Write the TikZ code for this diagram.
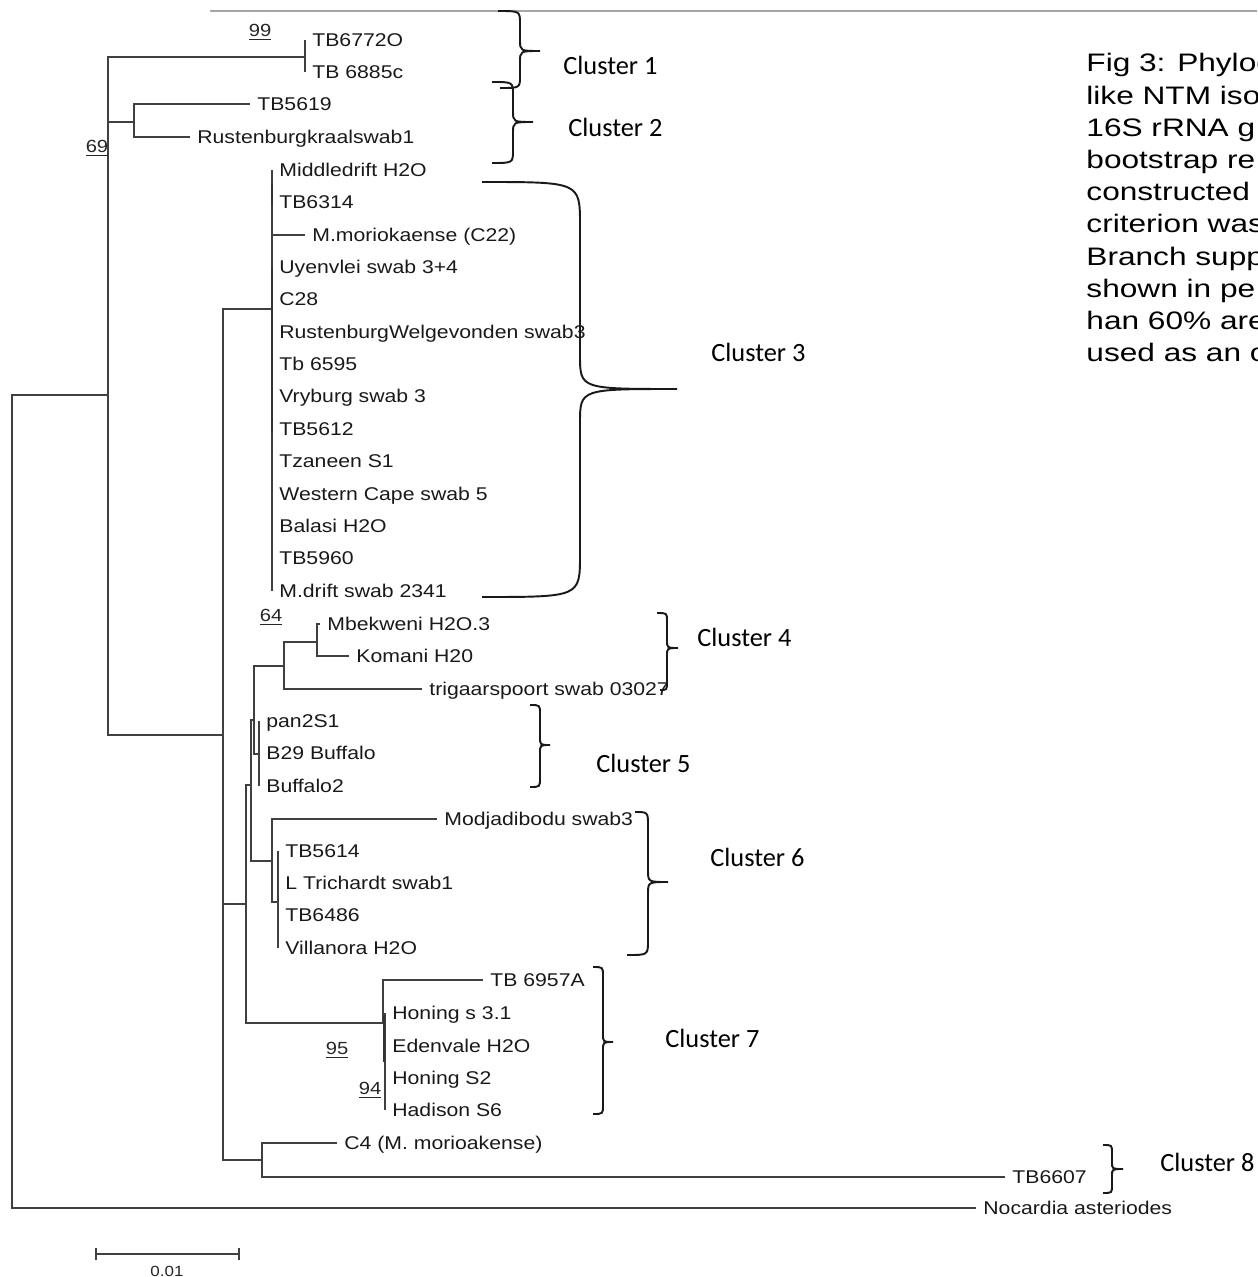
\documentclass[tikz,border=0pt]{standalone}
\usepackage{fontspec}
\usepackage{tikz}
\newfontfamily\treefont[FakeStretch=1.15]{Liberation Sans}
\newfontfamily\capfont{Liberation Sans}
\newfontfamily\clufont{Carlito}
\tikzset{
  leaf/.style={anchor=west, inner xsep=4pt, inner ysep=0pt, text height=7.6pt, text depth=0pt,
    font=\treefont\fontsize{10.5}{12}\selectfont, text=black!90},
  boot/.style={inner sep=0pt, font=\treefont\fontsize{10}{12}\selectfont, text=black!85},
  clu/.style={anchor=west, inner sep=0pt, text height=10.4pt, text depth=0pt,
    font=\clufont\fontsize{15}{18}\selectfont},
  capline/.style={anchor=west, inner sep=0pt, text height=10.2pt, text depth=0pt,
    xscale=1.25, transform shape, font=\capfont\fontsize{14.4}{17}\selectfont},
  branch/.style={draw=black!75, line width=0.7pt},
  bold branch/.style={draw=black!80, line width=1.6pt},
  clbrace/.style={draw=black!90, line width=1.1pt},
}

\begin{document}
\begin{tikzpicture}[x=0.02cm, y=-0.02cm]
            \path[use as bounding box, clip] (0,0) rectangle (1257,1277);
            \draw[black!35, line width=0.6pt] (210,11) -- (1257,11);
            % leaves
            \node[leaf] (l1) at (305,40) {TB6772O};
            \node[leaf] (l2) at (305,72) {TB 6885c};
            \node[leaf] (l3) at (250,104) {TB5619};
            \node[leaf] (l4) at (190,137) {Rustenburgkraalswab1};
            \node[leaf] (l5) at (272,170) {Middledrift H2O};
            \node[leaf] (l6) at (272,202) {TB6314};
            \node[leaf] (l7) at (305,235) {M.moriokaense (C22)};
            \node[leaf] (l8) at (272,267) {Uyenvlei swab 3+4};
            \node[leaf] (l9) at (272,299) {C28};
            \node[leaf] (l10) at (272,332) {RustenburgWelgevonden swab3};
            \node[leaf] (l11) at (272,364) {Tb 6595};
            \node[leaf] (l12) at (272,396) {Vryburg swab 3};
            \node[leaf] (l13) at (272,429) {TB5612};
            \node[leaf] (l14) at (272,461) {Tzaneen S1};
            \node[leaf] (l15) at (272,494) {Western Cape swab 5};
            \node[leaf] (l16) at (272,526) {Balasi H2O};
            \node[leaf] (l17) at (272,558) {TB5960};
            \node[leaf] (l18) at (272,591) {M.drift swab 2341};
            \node[leaf] (l19) at (320,624) {Mbekweni H2O.3};
            \node[leaf] (l20) at (349,656) {Komani H20};
            \node[leaf] (l21) at (422,689) {trigaarspoort swab 03027};
            \node[leaf] (l22) at (259,721) {pan2S1};
            \node[leaf] (l23) at (259,753) {B29 Buffalo};
            \node[leaf] (l24) at (259,786) {Buffalo2};
            \node[leaf] (l25) at (437,819) {Modjadibodu swab3};
            \node[leaf] (l26) at (278,851) {TB5614};
            \node[leaf] (l27) at (278,883) {L Trichardt swab1};
            \node[leaf] (l28) at (278,915) {TB6486};
            \node[leaf] (l29) at (278,948) {Villanora H2O};
            \node[leaf] (l30) at (483,980) {TB 6957A};
            \node[leaf] (l31) at (385,1013) {Honing s 3.1};
            \node[leaf] (l32) at (385,1046) {Edenvale H2O};
            \node[leaf] (l33) at (385,1078) {Honing S2};
            \node[leaf] (l34) at (385,1110) {Hadison S6};
            \node[leaf] (l35) at (337,1143) {C4 (M. morioakense)};
            \node[leaf] (l36) at (1005,1177) {TB6607};
            \node[leaf] (l37) at (976,1208) {Nocardia asteriodes};
            % inner nodes
            \coordinate (root) at (12,800);
            \coordinate (nA) at (108,395);
            \coordinate (c1) at (305,57);
            \coordinate (c2) at (134,122);
            \coordinate (nB) at (223,735);
            \coordinate (c3) at (272,309);
            \coordinate (nD) at (246,904);
            \coordinate (nE) at (251,785);
            \coordinate (nF) at (254,720);
            \coordinate (c4) at (284,666);
            \coordinate (c4a) at (317,642);
            \coordinate (c5) at (259,754);
            \coordinate (c6) at (272,861);
            \coordinate (c6a) at (278,902);
            \coordinate (c7) at (383,1023);
            \coordinate (c7a) at (385,1023);
            \coordinate (c8) at (262,1160);
            % branches
            \draw[branch] (root) |- (nA);
            \draw[branch] (root) |- (l37.west);
            \draw[branch] (nA) |- (c1);
            \draw[branch] (nA) |- (c2);
            \draw[branch] (nA) |- (nB);
            \draw[branch] (c1) |- (l1.west);
            \draw[branch] (c1) |- (l2.west);
            \draw[branch] (c2) |- (l3.west);
            \draw[branch] (c2) |- (l4.west);
            \draw[branch] (nB) |- (c3);
            \draw[branch] (nB) |- (nD);
            \draw[branch] (nB) |- (c8);
            \foreach \i in {5,...,18}
                \draw[branch] (c3) |- (l\i.west);
            \draw[bold branch] (272,184) -- (272,206);
            \draw[bold branch] (272,268) -- (272,432);
            \draw[branch] (nD) |- (nE);
            \draw[branch] (nD) |- (c7);
            \draw[branch] (nE) |- (nF);
            \draw[branch] (nE) |- (c6);
            \draw[branch] (nF) |- (c4);
            \draw[branch] (nF) |- (c5);
            \draw[branch] (c4) |- (c4a);
            \draw[branch] (c4) |- (l21.west);
            \draw[branch] (c4a) |- (l19.west);
            \draw[branch] (c4a) |- (l20.west);
            \foreach \i in {22,23,24}
                \draw[branch] (c5) |- (l\i.west);
            \draw[branch] (c6) |- (l25.west);
            \draw[branch] (c6) |- (c6a);
            \foreach \i in {26,...,29}
                \draw[branch] (c6a) |- (l\i.west);
            \draw[branch] (c7) |- (l30.west);
            \draw[branch] (c7) |- (c7a);
            \foreach \i in {31,...,34}
                \draw[branch] (c7a) |- (l\i.west);
            \draw[bold branch] (384,1015) -- (384,1062);
            \draw[branch] (c8) |- (l35.west);
            \draw[branch] (c8) |- (l36.west);
            % bootstrap values
            \node[boot] (b99) at (260,32) {\underline{99}};
            \node[boot] (b69) at (97,148) {\underline{69}};
            \node[boot] (b64) at (271,617) {\underline{64}};
            \node[boot] (b95) at (337,1050) {\underline{95}};
            \node[boot] (b94) at (370,1090) {\underline{94}};
            % braces
            \draw[clbrace] (498,11) .. controls (520,11) .. (520,24) -- (520,40) .. controls (520,51) .. (540,51) .. controls (520,51) .. (520,62) -- (520,76) .. controls (520,88) .. (500,88);
            \draw[clbrace] (492,82) .. controls (513,82) .. (513,95) -- (513,111) .. controls (513,122) .. (533,122) .. controls (513,122) .. (513,133) -- (513,150) .. controls (513,163) .. (492,163);
            \draw[clbrace] (482,182) .. controls (580,182) .. (580,225) -- (580,355) .. controls (580,389) .. (677,389) .. controls (580,389) .. (580,423) -- (580,555) .. controls (580,597) .. (482,597);
            \draw[clbrace] (657,613) .. controls (667,613) .. (667,621) -- (667,640) .. controls (667,648) .. (678,648) .. controls (667,648) .. (667,656) -- (667,682) .. controls (667,690) .. (660,690);
            \draw[clbrace] (530,705) .. controls (540,705) .. (540,714) -- (540,737) .. controls (540,745) .. (550,745) .. controls (540,745) .. (540,753) -- (540,778) .. controls (540,787) .. (530,787);
            \draw[clbrace] (635,812) .. controls (648,812) .. (648,826) -- (648,870) .. controls (648,882) .. (668,882) .. controls (648,882) .. (648,894) -- (648,941) .. controls (648,955) .. (627,955);
            \draw[clbrace] (593,967) .. controls (603,967) .. (603,976) -- (603,1034) .. controls (603,1042) .. (613,1042) .. controls (603,1042) .. (603,1050) -- (603,1105) .. controls (603,1114) .. (593,1114);
            \draw[clbrace] (1103,1145) .. controls (1112,1145) .. (1112,1153) -- (1112,1162) .. controls (1112,1169) .. (1123,1169) .. controls (1112,1169) .. (1112,1176) -- (1112,1185) .. controls (1112,1193) .. (1103,1193);
            % cluster names
            \node[clu] (cl1) at (563,65) {Cluster 1};
            \node[clu] (cl2) at (568,127) {Cluster 2};
            \node[clu] (cl3) at (711,352) {Cluster 3};
            \node[clu] (cl4) at (697,637) {Cluster 4};
            \node[clu] (cl5) at (596,763) {Cluster 5};
            \node[clu] (cl6) at (710,857) {Cluster 6};
            \node[clu] (cl7) at (665,1038) {Cluster 7};
            \node[clu] (cl8) at (1160,1162) {Cluster 8};
            % scale bar
            \coordinate (sL) at (96,1254);
            \coordinate (sR) at (239,1254);
            \draw[branch] (sL) -- (sR);
            \draw[branch] ([yshift=-3.5pt]sL) -- ([yshift=3.5pt]sL);
            \draw[branch] ([yshift=-3.5pt]sR) -- ([yshift=3.5pt]sR);
            \node[boot, font=\treefont\fontsize{8.4}{10}\selectfont] (sc) at (167,1271) {0.01};
            % caption (cut at the right edge)
            \foreach \t [count=\i from 0] in {Fig 3: Phylog, like NTM iso, 16S rRNA g, bootstrap re, constructed, criterion was, Branch supp, shown in pe, han 60\% are, used as an o}
                \node[capline] (cap\i) at (1086,{63+32.2*\i}) {\t};
        \end{tikzpicture}
\end{document}
